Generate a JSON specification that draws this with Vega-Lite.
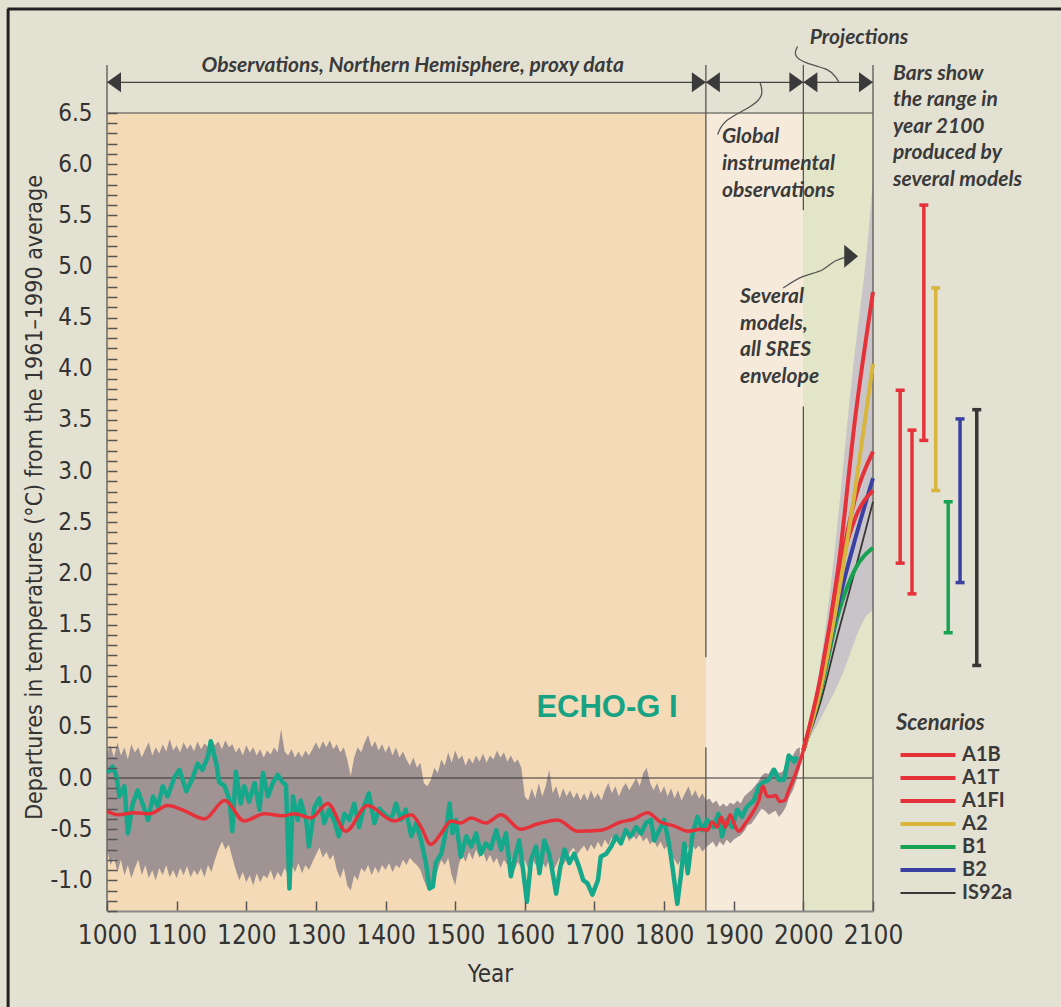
{
 "$schema": "https://vega.github.io/schema/vega-lite/v6.json",
 "width": 766, "height": 798,
 "autosize": "none",
 "padding": {"left": 107, "top": 113, "right": 188, "bottom": 96},
 "background": "#E3E1D2",
 "config": {"view": {"stroke": null}, "axis": {"grid": false}},
 "datasets": {
  "proxy": [
   {"year":1000,"lo":-0.70,"hi":0.24},{"year":1005,"lo":-0.85,"hi":0.32},{"year":1010,"lo":-0.78,"hi":0.20},{"year":1015,"lo":-0.92,"hi":0.35},{"year":1020,"lo":-0.80,"hi":0.22},
   {"year":1025,"lo":-0.95,"hi":0.30},{"year":1030,"lo":-0.85,"hi":0.18},{"year":1035,"lo":-0.98,"hi":0.33},{"year":1040,"lo":-0.88,"hi":0.25},{"year":1045,"lo":-0.80,"hi":0.30},
   {"year":1050,"lo":-0.95,"hi":0.20},{"year":1055,"lo":-0.85,"hi":0.28},{"year":1060,"lo":-0.98,"hi":0.35},{"year":1065,"lo":-0.90,"hi":0.22},{"year":1070,"lo":-1.00,"hi":0.30},
   {"year":1075,"lo":-0.88,"hi":0.24},{"year":1080,"lo":-0.95,"hi":0.33},{"year":1085,"lo":-0.85,"hi":0.26},{"year":1090,"lo":-0.97,"hi":0.38},{"year":1095,"lo":-0.90,"hi":0.27},
   {"year":1100,"lo":-0.98,"hi":0.32},{"year":1105,"lo":-0.88,"hi":0.25},{"year":1110,"lo":-0.95,"hi":0.35},{"year":1115,"lo":-0.86,"hi":0.28},{"year":1120,"lo":-0.97,"hi":0.33},
   {"year":1125,"lo":-0.90,"hi":0.26},{"year":1130,"lo":-0.95,"hi":0.36},{"year":1135,"lo":-0.88,"hi":0.28},{"year":1140,"lo":-0.97,"hi":0.34},{"year":1145,"lo":-0.85,"hi":0.30},
   {"year":1150,"lo":-0.92,"hi":0.38},{"year":1155,"lo":-0.80,"hi":0.32},{"year":1160,"lo":-0.70,"hi":0.36},{"year":1165,"lo":-0.62,"hi":0.28},{"year":1170,"lo":-0.70,"hi":0.37},
   {"year":1175,"lo":-0.65,"hi":0.30},{"year":1180,"lo":-0.78,"hi":0.33},{"year":1185,"lo":-0.90,"hi":0.25},{"year":1190,"lo":-1.00,"hi":0.30},{"year":1195,"lo":-0.92,"hi":0.22},
   {"year":1200,"lo":-1.02,"hi":0.32},{"year":1205,"lo":-0.95,"hi":0.25},{"year":1210,"lo":-1.05,"hi":0.30},{"year":1215,"lo":-0.93,"hi":0.22},{"year":1220,"lo":-1.02,"hi":0.28},
   {"year":1225,"lo":-0.95,"hi":0.20},{"year":1230,"lo":-0.98,"hi":0.27},{"year":1235,"lo":-0.90,"hi":0.23},{"year":1240,"lo":-1.00,"hi":0.30},{"year":1245,"lo":-0.92,"hi":0.25},
   {"year":1250,"lo":-0.97,"hi":0.48},{"year":1255,"lo":-0.88,"hi":0.26},{"year":1260,"lo":-0.95,"hi":0.22},{"year":1265,"lo":-0.85,"hi":0.28},{"year":1270,"lo":-0.92,"hi":0.20},
   {"year":1275,"lo":-0.83,"hi":0.26},{"year":1280,"lo":-0.93,"hi":0.20},{"year":1285,"lo":-0.85,"hi":0.27},{"year":1290,"lo":-0.90,"hi":0.22},{"year":1295,"lo":-0.82,"hi":0.28},
   {"year":1300,"lo":-0.75,"hi":0.35},{"year":1305,"lo":-0.68,"hi":0.28},{"year":1310,"lo":-0.78,"hi":0.36},{"year":1315,"lo":-0.72,"hi":0.30},{"year":1320,"lo":-0.80,"hi":0.37},
   {"year":1325,"lo":-0.75,"hi":0.28},{"year":1330,"lo":-0.90,"hi":0.33},{"year":1335,"lo":-0.98,"hi":0.25},{"year":1340,"lo":-0.88,"hi":0.30},{"year":1345,"lo":-1.05,"hi":0.18},
   {"year":1350,"lo":-1.10,"hi":0.02},{"year":1355,"lo":-0.95,"hi":0.20},{"year":1360,"lo":-1.00,"hi":0.30},{"year":1365,"lo":-0.88,"hi":0.25},{"year":1370,"lo":-0.92,"hi":0.35},
   {"year":1375,"lo":-0.85,"hi":0.42},{"year":1380,"lo":-0.95,"hi":0.30},{"year":1385,"lo":-0.87,"hi":0.36},{"year":1390,"lo":-0.93,"hi":0.27},{"year":1395,"lo":-0.85,"hi":0.33},
   {"year":1400,"lo":-0.90,"hi":0.25},{"year":1405,"lo":-0.83,"hi":0.32},{"year":1410,"lo":-0.92,"hi":0.22},{"year":1415,"lo":-0.85,"hi":0.30},{"year":1420,"lo":-0.88,"hi":0.20},
   {"year":1425,"lo":-0.80,"hi":0.26},{"year":1430,"lo":-0.85,"hi":0.18},{"year":1435,"lo":-0.78,"hi":0.12},{"year":1440,"lo":-0.82,"hi":0.20},{"year":1445,"lo":-0.85,"hi":0.10},
   {"year":1450,"lo":-0.90,"hi":0.15},{"year":1455,"lo":-1.00,"hi":-0.05},{"year":1460,"lo":-1.08,"hi":-0.08},{"year":1465,"lo":-1.10,"hi":-0.02},{"year":1470,"lo":-1.02,"hi":0.10},
   {"year":1475,"lo":-0.90,"hi":0.05},{"year":1480,"lo":-0.80,"hi":0.18},{"year":1485,"lo":-0.85,"hi":0.12},{"year":1490,"lo":-0.78,"hi":0.25},{"year":1495,"lo":-0.95,"hi":0.15},
   {"year":1500,"lo":-1.05,"hi":0.27},{"year":1505,"lo":-0.85,"hi":0.18},{"year":1510,"lo":-0.75,"hi":0.22},{"year":1515,"lo":-0.82,"hi":0.12},{"year":1520,"lo":-0.72,"hi":0.20},
   {"year":1525,"lo":-0.80,"hi":0.14},{"year":1530,"lo":-0.70,"hi":0.22},{"year":1535,"lo":-0.78,"hi":0.16},{"year":1540,"lo":-0.72,"hi":0.24},{"year":1545,"lo":-0.82,"hi":0.15},
   {"year":1550,"lo":-0.75,"hi":0.22},{"year":1555,"lo":-0.83,"hi":0.18},{"year":1560,"lo":-0.78,"hi":0.27},{"year":1565,"lo":-0.88,"hi":0.20},{"year":1570,"lo":-0.80,"hi":0.25},
   {"year":1575,"lo":-0.85,"hi":0.16},{"year":1580,"lo":-0.78,"hi":0.22},{"year":1585,"lo":-0.90,"hi":0.15},{"year":1590,"lo":-0.82,"hi":0.18},{"year":1595,"lo":-0.88,"hi":0.10},
   {"year":1600,"lo":-0.80,"hi":-0.18},{"year":1605,"lo":-0.90,"hi":-0.22},{"year":1610,"lo":-0.78,"hi":-0.10},{"year":1615,"lo":-0.85,"hi":-0.20},{"year":1620,"lo":-0.75,"hi":-0.05},
   {"year":1625,"lo":-0.82,"hi":-0.18},{"year":1630,"lo":-0.88,"hi":-0.08},{"year":1635,"lo":-0.80,"hi":0.08},{"year":1640,"lo":-0.92,"hi":-0.15},{"year":1645,"lo":-0.85,"hi":-0.08},
   {"year":1650,"lo":-0.78,"hi":-0.20},{"year":1655,"lo":-0.85,"hi":-0.10},{"year":1660,"lo":-0.80,"hi":-0.18},{"year":1665,"lo":-0.72,"hi":-0.12},{"year":1670,"lo":-0.68,"hi":-0.20},
   {"year":1675,"lo":-0.75,"hi":-0.14},{"year":1680,"lo":-0.70,"hi":-0.22},{"year":1685,"lo":-0.66,"hi":-0.15},{"year":1690,"lo":-0.72,"hi":-0.22},{"year":1695,"lo":-0.65,"hi":-0.12},
   {"year":1700,"lo":-0.70,"hi":-0.20},{"year":1705,"lo":-0.62,"hi":-0.15},{"year":1710,"lo":-0.68,"hi":-0.22},{"year":1715,"lo":-0.60,"hi":-0.12},{"year":1720,"lo":-0.66,"hi":-0.05},
   {"year":1725,"lo":-0.58,"hi":-0.15},{"year":1730,"lo":-0.64,"hi":-0.08},{"year":1735,"lo":-0.57,"hi":-0.18},{"year":1740,"lo":-0.63,"hi":-0.10},{"year":1745,"lo":-0.55,"hi":-0.05},
   {"year":1750,"lo":-0.62,"hi":-0.12},{"year":1755,"lo":-0.56,"hi":-0.06},{"year":1760,"lo":-0.60,"hi":0.00},{"year":1765,"lo":-0.55,"hi":-0.08},{"year":1770,"lo":-0.62,"hi":0.05},
   {"year":1775,"lo":-0.58,"hi":0.10},{"year":1780,"lo":-0.65,"hi":-0.05},{"year":1785,"lo":-0.60,"hi":-0.12},{"year":1790,"lo":-0.68,"hi":-0.05},{"year":1795,"lo":-0.62,"hi":-0.15},
   {"year":1800,"lo":-0.70,"hi":-0.08},{"year":1805,"lo":-0.66,"hi":-0.18},{"year":1810,"lo":-0.75,"hi":-0.10},{"year":1815,"lo":-0.80,"hi":-0.20},{"year":1820,"lo":-0.85,"hi":-0.12},
   {"year":1825,"lo":-0.78,"hi":-0.22},{"year":1830,"lo":-0.72,"hi":-0.15},{"year":1835,"lo":-0.68,"hi":-0.08},{"year":1840,"lo":-0.65,"hi":-0.18},{"year":1845,"lo":-0.70,"hi":-0.12},
   {"year":1850,"lo":-0.66,"hi":-0.20},{"year":1855,"lo":-0.72,"hi":-0.15},{"year":1860,"lo":-0.68,"hi":-0.22},{"year":1865,"lo":-0.65,"hi":-0.20},{"year":1870,"lo":-0.62,"hi":-0.25},
   {"year":1875,"lo":-0.68,"hi":-0.22},{"year":1880,"lo":-0.62,"hi":-0.28},{"year":1885,"lo":-0.66,"hi":-0.25},{"year":1890,"lo":-0.60,"hi":-0.28},{"year":1895,"lo":-0.64,"hi":-0.24},
   {"year":1900,"lo":-0.60,"hi":-0.26},{"year":1905,"lo":-0.58,"hi":-0.22},{"year":1910,"lo":-0.56,"hi":-0.25},{"year":1915,"lo":-0.52,"hi":-0.18},{"year":1920,"lo":-0.46,"hi":-0.15},
   {"year":1925,"lo":-0.45,"hi":-0.12},{"year":1930,"lo":-0.40,"hi":-0.08},{"year":1935,"lo":-0.35,"hi":-0.04},{"year":1940,"lo":-0.30,"hi":0.02},{"year":1945,"lo":-0.32,"hi":0.05},
   {"year":1950,"lo":-0.36,"hi":0.04},{"year":1955,"lo":-0.34,"hi":0.10},{"year":1960,"lo":-0.32,"hi":0.08},{"year":1965,"lo":-0.38,"hi":0.05},{"year":1970,"lo":-0.34,"hi":0.06},
   {"year":1975,"lo":-0.28,"hi":0.12},{"year":1980,"lo":-0.18,"hi":0.20},{"year":1985,"lo":-0.12,"hi":0.22},{"year":1990,"lo":-0.02,"hi":0.28},{"year":1995,"lo":0.10,"hi":0.30}
  ],
  "echo": [
   {"year":1001,"t":0.05},{"year":1008,"t":0.11},{"year":1013,"t":0.03},{"year":1018,"t":-0.18},{"year":1025,"t":-0.08},{"year":1030,"t":-0.54},{"year":1037,"t":-0.25},{"year":1044,"t":-0.12},{"year":1051,"t":-0.25},{"year":1059,"t":-0.41},
   {"year":1066,"t":-0.18},{"year":1073,"t":-0.28},{"year":1080,"t":-0.08},{"year":1087,"t":-0.18},{"year":1097,"t":0.01},{"year":1104,"t":0.08},{"year":1114,"t":-0.13},{"year":1123,"t":0.0},{"year":1130,"t":0.14},{"year":1137,"t":0.08},
   {"year":1145,"t":0.21},{"year":1149,"t":0.36},{"year":1157,"t":0.14},{"year":1161,"t":-0.04},{"year":1169,"t":-0.08},{"year":1176,"t":-0.22},{"year":1180,"t":-0.52},{"year":1185,"t":0.06},{"year":1192,"t":-0.25},{"year":1197,"t":-0.08},
   {"year":1204,"t":-0.23},{"year":1212,"t":-0.05},{"year":1219,"t":-0.31},{"year":1224,"t":0.05},{"year":1231,"t":-0.18},{"year":1238,"t":-0.05},{"year":1245,"t":0.03},{"year":1252,"t":-0.04},{"year":1257,"t":-0.07},{"year":1262,"t":-1.08},
   {"year":1267,"t":-0.18},{"year":1274,"t":-0.41},{"year":1278,"t":-0.22},{"year":1286,"t":-0.41},{"year":1290,"t":-0.67},{"year":1298,"t":-0.28},{"year":1305,"t":-0.20},{"year":1312,"t":-0.44},{"year":1319,"t":-0.31},{"year":1326,"t":-0.41},
   {"year":1333,"t":-0.57},{"year":1341,"t":-0.35},{"year":1348,"t":-0.41},{"year":1355,"t":-0.25},{"year":1362,"t":-0.48},{"year":1369,"t":-0.28},{"year":1376,"t":-0.15},{"year":1384,"t":-0.44},{"year":1391,"t":-0.30},{"year":1398,"t":-0.35},
   {"year":1408,"t":-0.41},{"year":1415,"t":-0.25},{"year":1422,"t":-0.41},{"year":1429,"t":-0.31},{"year":1437,"t":-0.57},{"year":1444,"t":-0.44},{"year":1451,"t":-0.61},{"year":1458,"t":-0.83},{"year":1463,"t":-1.08},{"year":1468,"t":-1.06},
   {"year":1472,"t":-0.83},{"year":1480,"t":-0.74},{"year":1487,"t":-0.51},{"year":1492,"t":-0.25},{"year":1496,"t":-0.54},{"year":1501,"t":-0.41},{"year":1508,"t":-0.77},{"year":1516,"t":-0.57},{"year":1523,"t":-0.67},{"year":1530,"t":-0.54},
   {"year":1537,"t":-0.74},{"year":1544,"t":-0.64},{"year":1551,"t":-0.69},{"year":1559,"t":-0.51},{"year":1566,"t":-0.70},{"year":1573,"t":-0.54},{"year":1580,"t":-0.96},{"year":1585,"t":-0.80},{"year":1592,"t":-0.61},{"year":1597,"t":-0.87},
   {"year":1603,"t":-1.21},{"year":1609,"t":-0.80},{"year":1616,"t":-0.67},{"year":1621,"t":-0.93},{"year":1628,"t":-0.61},{"year":1635,"t":-0.74},{"year":1640,"t":-0.93},{"year":1645,"t":-1.13},{"year":1651,"t":-0.87},{"year":1657,"t":-0.70},
   {"year":1664,"t":-0.83},{"year":1671,"t":-0.74},{"year":1678,"t":-0.87},{"year":1684,"t":-1.0},{"year":1690,"t":-1.03},{"year":1697,"t":-1.14},{"year":1705,"t":-1.0},{"year":1709,"t":-0.77},{"year":1717,"t":-0.74},{"year":1724,"t":-0.67},
   {"year":1731,"t":-0.57},{"year":1738,"t":-0.64},{"year":1745,"t":-0.51},{"year":1752,"t":-0.57},{"year":1760,"t":-0.48},{"year":1767,"t":-0.54},{"year":1774,"t":-0.44},{"year":1781,"t":-0.41},{"year":1786,"t":-0.61},{"year":1793,"t":-0.51},
   {"year":1800,"t":-0.41},{"year":1807,"t":-0.64},{"year":1812,"t":-0.87},{"year":1819,"t":-1.23},{"year":1824,"t":-0.96},{"year":1829,"t":-0.64},{"year":1834,"t":-0.93},{"year":1841,"t":-0.54},{"year":1848,"t":-0.38},{"year":1855,"t":-0.51},
   {"year":1862,"t":-0.41},{"year":1871,"t":-0.48},{"year":1878,"t":-0.35},{"year":1883,"t":-0.57},{"year":1890,"t":-0.41},{"year":1898,"t":-0.48},{"year":1905,"t":-0.31},{"year":1912,"t":-0.38},{"year":1919,"t":-0.28},{"year":1929,"t":-0.22},
   {"year":1936,"t":-0.08},{"year":1943,"t":-0.04},{"year":1950,"t":-0.02},{"year":1958,"t":0.08},{"year":1965,"t":-0.02},{"year":1972,"t":-0.02},{"year":1979,"t":0.22},{"year":1987,"t":0.16},{"year":1991,"t":0.21}
  ],
  "smooth": [
   {"year":1000,"t":-0.32},{"year":1016,"t":-0.36},{"year":1039,"t":-0.34},{"year":1061,"t":-0.35},{"year":1087,"t":-0.27},{"year":1111,"t":-0.32},{"year":1140,"t":-0.40},{"year":1169,"t":-0.22},{"year":1197,"t":-0.42},{"year":1226,"t":-0.35},
   {"year":1252,"t":-0.37},{"year":1269,"t":-0.35},{"year":1293,"t":-0.39},{"year":1317,"t":-0.25},{"year":1343,"t":-0.52},{"year":1374,"t":-0.27},{"year":1412,"t":-0.42},{"year":1437,"t":-0.36},{"year":1451,"t":-0.48},{"year":1465,"t":-0.65},
   {"year":1480,"t":-0.54},{"year":1494,"t":-0.42},{"year":1508,"t":-0.44},{"year":1523,"t":-0.39},{"year":1544,"t":-0.44},{"year":1566,"t":-0.36},{"year":1594,"t":-0.50},{"year":1618,"t":-0.45},{"year":1647,"t":-0.41},{"year":1676,"t":-0.52},
   {"year":1709,"t":-0.51},{"year":1738,"t":-0.43},{"year":1757,"t":-0.40},{"year":1776,"t":-0.34},{"year":1795,"t":-0.43},{"year":1815,"t":-0.47},{"year":1834,"t":-0.52},{"year":1853,"t":-0.50},{"year":1862,"t":-0.51},{"year":1869,"t":-0.43},
   {"year":1876,"t":-0.48},{"year":1882,"t":-0.38},{"year":1888,"t":-0.48},{"year":1895,"t":-0.36},{"year":1900,"t":-0.44},{"year":1907,"t":-0.52},{"year":1917,"t":-0.44},{"year":1926,"t":-0.35},{"year":1936,"t":-0.22},{"year":1942,"t":-0.08},
   {"year":1948,"t":-0.18},{"year":1955,"t":-0.18},{"year":1960,"t":-0.17},{"year":1966,"t":-0.23},{"year":1973,"t":-0.22},{"year":1979,"t":-0.12},{"year":1987,"t":0.01},{"year":1994,"t":0.14},{"year":2000,"t":0.27}
  ],
  "projenv": [
   {"year":2000,"lo":0.27,"hi":0.27},{"year":2010,"lo":0.40,"hi":0.55},{"year":2020,"lo":0.52,"hi":0.92},{"year":2030,"lo":0.65,"hi":1.38},{"year":2040,"lo":0.78,"hi":1.92},{"year":2050,"lo":0.92,"hi":2.55},
   {"year":2060,"lo":1.08,"hi":3.25},{"year":2070,"lo":1.27,"hi":3.92},{"year":2080,"lo":1.45,"hi":4.50},{"year":2090,"lo":1.58,"hi":5.08},{"year":2100,"lo":1.64,"hi":5.85}
  ],
  "scen": [
   {"scenario":"IS92a","year":2000,"t":0.27},{"scenario":"IS92a","year":2025,"t":0.75},{"scenario":"IS92a","year":2050,"t":1.42},{"scenario":"IS92a","year":2075,"t":2.05},{"scenario":"IS92a","year":2100,"t":2.70},
   {"scenario":"B1","year":2000,"t":0.27},{"scenario":"B1","year":2025,"t":0.85},{"scenario":"B1","year":2050,"t":1.60},{"scenario":"B1","year":2075,"t":2.05},{"scenario":"B1","year":2100,"t":2.25},
   {"scenario":"B2","year":2000,"t":0.27},{"scenario":"B2","year":2025,"t":0.88},{"scenario":"B2","year":2050,"t":1.70},{"scenario":"B2","year":2075,"t":2.35},{"scenario":"B2","year":2100,"t":2.93},
   {"scenario":"A1T","year":2000,"t":0.27},{"scenario":"A1T","year":2025,"t":0.95},{"scenario":"A1T","year":2050,"t":1.95},{"scenario":"A1T","year":2075,"t":2.55},{"scenario":"A1T","year":2100,"t":2.81},
   {"scenario":"A1B","year":2000,"t":0.27},{"scenario":"A1B","year":2025,"t":0.95},{"scenario":"A1B","year":2050,"t":1.95},{"scenario":"A1B","year":2075,"t":2.75},{"scenario":"A1B","year":2100,"t":3.19},
   {"scenario":"A2","year":2000,"t":0.27},{"scenario":"A2","year":2025,"t":0.88},{"scenario":"A2","year":2050,"t":1.78},{"scenario":"A2","year":2075,"t":2.85},{"scenario":"A2","year":2100,"t":4.05},
   {"scenario":"A1FI","year":2000,"t":0.27},{"scenario":"A1FI","year":2025,"t":1.00},{"scenario":"A1FI","year":2050,"t":2.05},{"scenario":"A1FI","year":2075,"t":3.55},{"scenario":"A1FI","year":2100,"t":4.75}
  ],
  "ranges": [
   {"scenario":"A1B","slot":2139,"lo":2.10,"hi":3.79},
   {"scenario":"A1T","slot":2156,"lo":1.80,"hi":3.40},
   {"scenario":"A1FI","slot":2173,"lo":3.30,"hi":5.60},
   {"scenario":"A2","slot":2190,"lo":2.81,"hi":4.79},
   {"scenario":"B1","slot":2208,"lo":1.42,"hi":2.70},
   {"scenario":"B2","slot":2225,"lo":1.91,"hi":3.51},
   {"scenario":"IS92a","slot":2249,"lo":1.10,"hi":3.60}
  ],
  "leaders": [
   {"curve":"proj","i":0,"year":1991.7,"t":7.15},{"curve":"proj","i":1,"year":1985,"t":7.06},{"curve":"proj","i":2,"year":2004,"t":6.98},{"curve":"proj","i":3,"year":2038,"t":6.93},{"curve":"proj","i":4,"year":2048,"t":6.84},{"curve":"proj","i":5,"year":2051,"t":6.80},
   {"curve":"glob","i":0,"year":1877,"t":6.29},{"curve":"glob","i":1,"year":1885,"t":6.43},{"curve":"glob","i":2,"year":1926,"t":6.56},{"curve":"glob","i":3,"year":1943.5,"t":6.67},{"curve":"glob","i":4,"year":1937.7,"t":6.80},
   {"curve":"sev","i":0,"year":1971,"t":4.79},{"curve":"sev","i":1,"year":2000,"t":4.92},{"curve":"sev","i":2,"year":2028.6,"t":4.95},{"curve":"sev","i":3,"year":2043,"t":5.06},{"curve":"sev","i":4,"year":2067,"t":5.10}
  ],
  "arrows": [
   {"year":1000,"dir":"left"},{"year":1860,"dir":"right"},{"year":1860,"dir":"left"},{"year":2000,"dir":"right"},{"year":2000,"dir":"left"},{"year":2100,"dir":"right"}
  ]
 },
 "layer": [
  {"data": {"values": [{}]}, "mark": {"type": "rect", "color": "#F4DAB6"},
   "encoding": {
    "x": {"datum": 1000, "type": "quantitative", "scale": {"domain": [1000, 2100], "nice": false, "zero": false},
      "axis": {"values": [1000,1050,1100,1150,1200,1250,1300,1350,1400,1450,1500,1550,1600,1650,1700,1750,1800,1850,1900,1950,2000,2050,2100],
        "format": "d", "labelExpr": "datum.value % 100 == 0 ? datum.label : ''", "zindex": 1,
        "title": "Year", "titleFont": "Liberation Sans Narrow, DejaVu Sans Condensed, sans-serif", "titleFontSize": 24, "titleFontWeight": "normal", "titleColor": "#333333",
        "titleX": 383, "titleY": 63, "titleBaseline": "middle", "titleAlign": "center",
        "labelFont": "Liberation Sans Narrow, DejaVu Sans Condensed, sans-serif", "labelFontSize": 26, "labelColor": "#333333", "labelPadding": 21,
        "labelOverlap": false, "labelFlush": false, "labelBaseline": "top",
        "ticks": true, "tickSize": -10, "tickColor": "#555555", "tickWidth": 1.5, "domainColor": "#8a8a8a", "domainWidth": 2,
        "encode": {"ticks": {"update": {"y2": {"signal": "datum.value % 100 == 0 ? -10 : -6"}}}}}},
    "x2": {"datum": 1860},
    "y": {"datum": -1.3, "type": "quantitative", "scale": {"domain": [-1.3, 6.5], "nice": false, "zero": false},
      "axis": {"tickCount": 80, "zindex": 1, "labelExpr": "abs(round(datum.value*10)) % 5 == 0 ? replace(format(datum.value, '.1f'), '\u2212', '-') : ''",
        "title": "Departures in temperatures (°C) from the 1961–1990 average",
        "titleFont": "Liberation Sans Narrow, DejaVu Sans Condensed, sans-serif", "titleFontSize": 23, "titleFontWeight": "normal", "titleColor": "#333333",
        "titleX": -73, "titleY": 384, "titleAngle": 270, "titleBaseline": "middle", "titleAlign": "center",
        "labelFont": "Liberation Sans Narrow, DejaVu Sans Condensed, sans-serif", "labelFontSize": 24, "labelColor": "#333333", "labelPadding": 25,
        "labelOverlap": false, "labelFlush": false, "labelBaseline": "middle",
        "ticks": true, "tickSize": -10, "tickColor": "#555555", "tickWidth": 1.5, "domain": false,
        "encode": {"ticks": {"update": {"x2": {"signal": "abs(round(datum.value*10)) % 5 == 0 ? 10 : 5"}}}}}},
    "y2": {"datum": 6.5}
   }},
  {"data": {"values": [{}]}, "mark": {"type": "rect", "color": "#F6EADB"},
   "encoding": {"x": {"datum": 1860, "type": "quantitative"}, "x2": {"datum": 2000}, "y": {"datum": -1.3, "type": "quantitative"}, "y2": {"datum": 6.5}}},
  {"data": {"values": [{}]}, "mark": {"type": "rect", "color": "#E3E5C9"},
   "encoding": {"x": {"datum": 2000, "type": "quantitative"}, "x2": {"datum": 2100}, "y": {"datum": -1.3, "type": "quantitative"}, "y2": {"datum": 6.5}}},
  {"data": {"name": "proxy"}, "mark": {"type": "area", "color": "#A09394", "opacity": 1},
   "encoding": {"x": {"field": "year", "type": "quantitative"}, "y": {"field": "lo", "type": "quantitative"}, "y2": {"field": "hi"}}},
  {"data": {"name": "projenv"}, "mark": {"type": "area", "color": "#C9C4C8", "opacity": 1, "interpolate": "monotone"},
   "encoding": {"x": {"field": "year", "type": "quantitative"}, "y": {"field": "lo", "type": "quantitative"}, "y2": {"field": "hi"}}},
  {"data": {"values": [{}]}, "mark": {"type": "rule", "color": "#333333", "strokeWidth": 1},
   "encoding": {"x": {"datum": 1000, "type": "quantitative"}, "x2": {"datum": 2100}, "y": {"datum": 0, "type": "quantitative"}}},
  {"data": {"values": [{}]}, "mark": {"type": "rule", "color": "#7a7a72", "strokeWidth": 1.5},
   "encoding": {"x": {"datum": 1000, "type": "quantitative"}, "x2": {"datum": 2100}, "y": {"datum": 6.5, "type": "quantitative"}}},
  {"data": {"values": [{}]}, "mark": {"type": "rule", "color": "#444444", "strokeWidth": 1.2},
   "encoding": {"x": {"datum": 1000, "type": "quantitative"}, "x2": {"datum": 2100}, "y": {"datum": 6.8, "type": "quantitative"}}},
  {"data": {"values": [{}]}, "mark": {"type": "rule", "color": "#6a6a66", "strokeWidth": 1.5},
   "encoding": {"x": {"datum": 1000, "type": "quantitative"}, "y": {"datum": 6.97, "type": "quantitative"}, "y2": {"datum": -1.3}}},
  {"data": {"values": [{}]}, "mark": {"type": "rule", "color": "#555555", "strokeWidth": 1.3},
   "encoding": {"x": {"datum": 1860, "type": "quantitative"}, "y": {"datum": 6.97, "type": "quantitative"}, "y2": {"datum": 1.18}}},
  {"data": {"values": [{}]}, "mark": {"type": "rule", "color": "#555555", "strokeWidth": 1.3},
   "encoding": {"x": {"datum": 1860, "type": "quantitative"}, "y": {"datum": 0.30, "type": "quantitative"}, "y2": {"datum": -1.3}}},
  {"data": {"values": [{}]}, "mark": {"type": "rule", "color": "#555555", "strokeWidth": 1.3},
   "encoding": {"x": {"datum": 2000, "type": "quantitative"}, "y": {"datum": 6.97, "type": "quantitative"}, "y2": {"datum": 5.55}}},
  {"data": {"values": [{}]}, "mark": {"type": "rule", "color": "#555555", "strokeWidth": 1.3},
   "encoding": {"x": {"datum": 2000, "type": "quantitative"}, "y": {"datum": 3.63, "type": "quantitative"}, "y2": {"datum": -1.3}}},
  {"data": {"values": [{}]}, "mark": {"type": "rule", "color": "#6a6a66", "strokeWidth": 1.5},
   "encoding": {"x": {"datum": 2100, "type": "quantitative"}, "y": {"datum": 6.97, "type": "quantitative"}, "y2": {"datum": -1.3}}},
  {"data": {"name": "echo"}, "mark": {"type": "line", "color": "#16A88A", "strokeWidth": 4.5, "strokeJoin": "round"},
   "encoding": {"x": {"field": "year", "type": "quantitative"}, "y": {"field": "t", "type": "quantitative"}}},
  {"data": {"name": "smooth"}, "mark": {"type": "line", "color": "#E5323A", "strokeWidth": 3.5, "interpolate": "monotone"},
   "encoding": {"x": {"field": "year", "type": "quantitative"}, "y": {"field": "t", "type": "quantitative"}}},
  {"data": {"name": "scen"}, "mark": {"type": "line", "interpolate": "monotone"},
   "encoding": {
    "x": {"field": "year", "type": "quantitative"},
    "y": {"field": "t", "type": "quantitative"},
    "detail": {"field": "scenario"},
    "strokeWidth": {"condition": {"test": "datum.scenario === 'IS92a'", "value": 1.8}, "value": 4},
    "color": {"field": "scenario", "type": "nominal",
      "scale": {"domain": ["A1B","A1T","A1FI","A2","B1","B2","IS92a"], "range": ["#E5323A","#E5323A","#E5323A","#D8B53C","#16A250","#3B41A0","#3A3636"]},
      "legend": {"orient": "none", "legendX": 789, "legendY": 600, "title": "Scenarios",
        "titleFont": "Lato", "titleFontSize": 22, "titleFontWeight": "bold", "titleFontStyle": "italic", "titleColor": "#3a3a3a", "titlePadding": 10,
        "labelFont": "Lato", "labelFontSize": 20, "labelFontWeight": "bold", "labelColor": "#3a3a3a",
        "symbolType": "M-5,0H5", "symbolSize": 121, "symbolStrokeWidth": 4, "symbolOffset": 22, "labelOffset": 24, "rowPadding": 3,
        "encode": {"symbols": {"update": {"strokeWidth": {"signal": "datum.value === 'IS92a' ? 1.8 : 4"}}}}}}
   }},
  {"data": {"name": "ranges"}, "mark": {"type": "rule", "strokeWidth": 3.5},
   "encoding": {"x": {"field": "slot", "type": "quantitative"}, "y": {"field": "lo", "type": "quantitative"}, "y2": {"field": "hi"},
    "color": {"field": "scenario", "type": "nominal", "legend": null}}},
  {"data": {"name": "ranges"}, "transform": [{"fold": ["lo", "hi"], "as": ["end", "val"]}],
   "mark": {"type": "tick", "orient": "horizontal", "size": 9, "thickness": 3.5, "opacity": 1},
   "encoding": {"x": {"field": "slot", "type": "quantitative"}, "y": {"field": "val", "type": "quantitative"},
    "color": {"field": "scenario", "type": "nominal", "legend": null}}},
  {"data": {"name": "leaders"}, "mark": {"type": "line", "color": "#555555", "strokeWidth": 1.3, "interpolate": "basis"},
   "encoding": {"x": {"field": "year", "type": "quantitative"}, "y": {"field": "t", "type": "quantitative"}, "detail": {"field": "curve"}, "order": {"field": "i"}}},
  {"data": {"name": "arrows"}, "mark": {"type": "point", "filled": true, "size": 400, "color": "#3a3a3a", "opacity": 1},
   "encoding": {"x": {"field": "year", "type": "quantitative"}, "y": {"datum": 6.8, "type": "quantitative"},
    "shape": {"field": "dir", "type": "nominal", "scale": {"domain": ["left", "right"], "range": ["M0,0L1.4,-1L1.4,1Z", "M0,0L-1.4,-1L-1.4,1Z"]}, "legend": null}}},
  {"data": {"values": [{}]}, "mark": {"type": "point", "filled": true, "size": 529, "color": "#3a3a3a", "opacity": 1, "shape": "M0,0L-1.2,-1L-1.2,1Z"},
   "encoding": {"x": {"datum": 2078.5, "type": "quantitative"}, "y": {"datum": 5.10, "type": "quantitative"}}},
  {"data": {"values": [{}]}, "mark": {"type": "text", "text": "Observations, Northern Hemisphere, proxy data", "font": "Lato", "fontStyle": "italic", "fontWeight": "bold", "fontSize": 21, "color": "#3a3a3a", "align": "center", "baseline": "middle"},
   "encoding": {"x": {"datum": 1439, "type": "quantitative"}, "y": {"datum": 6.96, "type": "quantitative"}}},
  {"data": {"values": [{}]}, "mark": {"type": "text", "text": "Projections", "font": "Lato", "fontStyle": "italic", "fontWeight": "bold", "fontSize": 21, "color": "#3a3a3a", "align": "center", "baseline": "middle"},
   "encoding": {"x": {"datum": 2080, "type": "quantitative"}, "y": {"datum": 7.23, "type": "quantitative"}}},
  {"data": {"values": [{}]}, "mark": {"type": "text", "text": ["Global", "instrumental", "observations"], "font": "Lato", "fontStyle": "italic", "fontWeight": "bold", "fontSize": 21, "lineHeight": 27, "color": "#3a3a3a", "align": "left", "baseline": "top"},
   "encoding": {"x": {"datum": 1883, "type": "quantitative"}, "y": {"datum": 6.37, "type": "quantitative"}}},
  {"data": {"values": [{}]}, "mark": {"type": "text", "text": ["Bars show", "the range in", "year 2100", "produced by", "several models"], "font": "Lato", "fontStyle": "italic", "fontWeight": "bold", "fontSize": 21, "lineHeight": 26.5, "color": "#3a3a3a", "align": "left", "baseline": "top"},
   "encoding": {"x": {"datum": 2128.7, "type": "quantitative"}, "y": {"datum": 6.99, "type": "quantitative"}}},
  {"data": {"values": [{}]}, "mark": {"type": "text", "text": ["Several", "models,", "all SRES", "envelope"], "font": "Lato", "fontStyle": "italic", "fontWeight": "bold", "fontSize": 21, "lineHeight": 26.7, "color": "#3a3a3a", "align": "left", "baseline": "top"},
   "encoding": {"x": {"datum": 1909, "type": "quantitative"}, "y": {"datum": 4.81, "type": "quantitative"}}},
  {"data": {"values": [{}]}, "mark": {"type": "text", "text": "ECHO-G I", "font": "Liberation Sans", "fontWeight": "bold", "fontSize": 31, "color": "#17A383", "align": "center", "baseline": "middle"},
   "encoding": {"x": {"datum": 1718, "type": "quantitative"}, "y": {"datum": 0.68, "type": "quantitative"}}},
  {"data": {"values": [{}]}, "mark": {"type": "rule", "color": "#222222", "strokeWidth": 3},
   "encoding": {"x": {"datum": 857, "type": "quantitative"}, "x2": {"datum": 2372}, "y": {"datum": 7.516, "type": "quantitative"}}},
  {"data": {"values": [{}]}, "mark": {"type": "rule", "color": "#222222", "strokeWidth": 3},
   "encoding": {"x": {"datum": 858, "type": "quantitative"}, "y": {"datum": 7.516, "type": "quantitative"}, "y2": {"datum": -2.3}}}
 ]
}
